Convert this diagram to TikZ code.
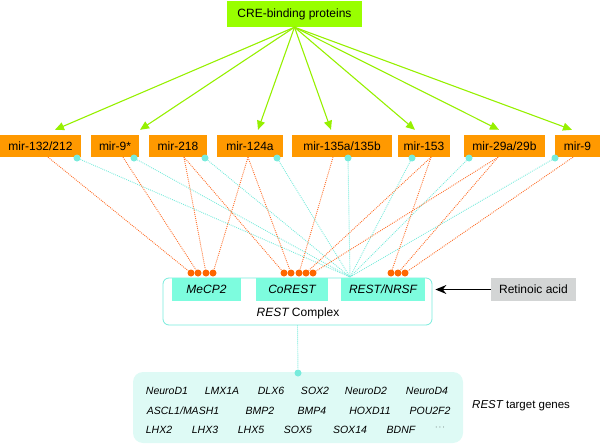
\documentclass[tikz,border=0pt]{standalone}
\usepackage{fontspec}
\setmainfont{Liberation Sans}
\usetikzlibrary{arrows.meta}
\definecolor{mylime}{RGB}{153,255,0}
\definecolor{mygreen}{RGB}{150,240,0}
\definecolor{myorange}{RGB}{255,153,0}
\definecolor{myred}{RGB}{255,102,0}
\definecolor{myline}{RGB}{255,110,40}
\definecolor{myaqua}{RGB}{125,252,222}
\definecolor{mycyan}{RGB}{120,235,220}
\definecolor{mypale}{RGB}{222,250,245}
\definecolor{mygrey}{RGB}{211,213,213}
\tikzstyle{mir}=[fill=myorange,minimum height=22pt,inner sep=0pt,font=\fontsize{12}{14}\selectfont]
\tikzstyle{part}=[fill=myaqua,minimum height=23pt,inner sep=0pt,font=\fontsize{12}{14}\selectfont\itshape]
\tikzstyle{odot}=[circle,fill=myred,minimum size=7pt,inner sep=0pt]
\tikzstyle{cdot}=[circle,fill=mycyan,minimum size=7pt,inner sep=0pt]
\tikzstyle{oline}=[myline,line width=0.9pt,dash pattern=on 0.9pt off 1.1pt]
\tikzstyle{cline}=[mycyan,line width=0.9pt,dash pattern=on 0.9pt off 1.1pt]
\tikzstyle{grarrow}=[mygreen,line width=1.1pt,-{Triangle[length=9pt,width=8pt]}]
\tikzstyle{gene}=[inner sep=0pt,font=\fontsize{10.5}{12}\selectfont\itshape]

\begin{document}
\begin{tikzpicture}[x=1pt,y=-1pt]
\useasboundingbox (0,0) rectangle (600,444);
% top
\draw (294.5,14) node [fill=mylime,minimum width=135pt,minimum height=26pt,font=\fontsize{12}{14}\selectfont] (cre) {CRE-binding proteins};
% microRNAs
\draw (40.5,146) node [mir,minimum width=81pt] (m1) {mir-132/212};
\draw (115,146) node [mir,minimum width=48pt] (m2) {mir-9*};
\draw (178,146) node [mir,minimum width=58pt] (m3) {mir-218};
\draw (250,146) node [mir,minimum width=66pt] (m4) {mir-124a};
\draw (342,146) node [mir,minimum width=100pt] (m5) {mir-135a/135b};
\draw (424,146) node [mir,minimum width=52pt] (m6) {mir-153};
\draw (504.5,146) node [mir,minimum width=81pt] (m7) {mir-29a/29b};
\draw (577.5,146) node [mir,minimum width=45pt] (m8) {mir-9};
\draw [grarrow] (cre.south) -- ([xshift=14.5pt,yshift=5pt]m1.north);
\draw [grarrow] (cre.south) -- ([xshift=25pt,yshift=5pt]m2.north);
\draw [grarrow] (cre.south) -- ([xshift=8pt,yshift=5pt]m4.north);
\draw [grarrow] (cre.south) -- ([xshift=-11pt,yshift=5pt]m5.north);
\draw [grarrow] (cre.south) -- ([xshift=-9pt,yshift=5pt]m6.north);
\draw [grarrow] (cre.south) -- ([xshift=-5.5pt,yshift=5pt]m7.north);
\draw [grarrow] (cre.south) -- ([xshift=-5.5pt,yshift=5pt]m8.north);
% REST complex
\draw (297.5,301.5) node [draw=mycyan,line width=0.8pt,rounded corners=6pt,minimum width=269pt,minimum height=47pt] (cx) {};
\draw (206.5,289.5) node [part,minimum width=69pt] (mecp) {MeCP2};
\draw (292,289.5) node [part,minimum width=72pt] (corest) {CoREST};
\draw (383,289.5) node [part,minimum width=84pt] (rest) {REST/NRSF};
\draw (298,313) node [font=\fontsize{12}{14}\selectfont] (cxlabel) {{\itshape REST} Complex};
\coordinate (hub) at (350,277);
% cyan links
\draw (77,158) node [cdot] (s1) {};
\draw (134,158) node [cdot] (s2) {};
\draw (205,158) node [cdot] (s3) {};
\draw (277,158) node [cdot] (s4) {};
\draw (348,158) node [cdot] (s5) {};
\draw (412,158) node [cdot] (s6) {};
\draw (469,158) node [cdot] (s7) {};
\draw (555,158) node [cdot] (s8) {};
\draw [cline] (s1) -- (hub);
\draw [cline] (s2) -- (hub);
\draw [cline] (s3) -- (hub);
\draw [cline] (s4) -- (hub);
\draw [cline] (s5) -- (hub);
\draw [cline] (s6) -- (hub);
\draw [cline] (s7) -- (hub);
\draw [cline] (s8) -- (hub);
% orange links
\draw (191,273) node [odot] (a1) {};
\draw (198,273) node [odot] (a2) {};
\draw (206,273) node [odot] (a3) {};
\draw (213,273) node [odot] (a4) {};
\draw (284,273) node [odot] (b1) {};
\draw (291,273) node [odot] (b2) {};
\draw (299,273) node [odot] (b3) {};
\draw (306,273) node [odot] (b4) {};
\draw (313,273) node [odot] (b5) {};
\draw (391,273) node [odot] (r1) {};
\draw (398,273) node [odot] (r2) {};
\draw (405,273) node [odot] (r3) {};
\draw [oline] ([xshift=7.5pt]m1.south) -- (a1);
\draw [oline] ([xshift=8pt]m2.south) -- (a2);
\draw [oline] ([xshift=6pt]m3.south) -- (a3);
\draw [oline] ([xshift=6pt]m3.south) -- (b1);
\draw [oline] ([xshift=-2pt]m4.south) -- (a4);
\draw [oline] ([xshift=-2pt]m4.south) -- (b2);
\draw [oline] ([xshift=-9pt]m5.south) -- (b3);
\draw [oline] ([xshift=7pt]m6.south) -- (b4);
\draw [oline] ([xshift=7pt]m6.south) -- (r1);
\draw [oline] ([xshift=-6.5pt]m7.south) -- (b5);
\draw [oline] ([xshift=-6.5pt]m7.south) -- (r2);
\draw [oline] ([xshift=-4.5pt]m8.south) -- (r3);
% retinoic acid
\draw (533.5,289.5) node [fill=mygrey,minimum width=85pt,minimum height=23pt,font=\fontsize{12}{14}\selectfont] (ra) {Retinoic acid};
\draw [line width=1.2pt,-{Stealth[length=11pt,width=9pt]},shorten >=3pt] (ra.west) -- (cx.east |- ra.west);
% target genes
\draw (298,407.5) node [fill=mypale,rounded corners=10pt,minimum width=330pt,minimum height=71pt] (genes) {};
\draw (298,373) node [cdot] (gd) {};
\draw [cline] (cx.south) -- (gd);
\draw (167,391) node [gene] (g1) {NeuroD1};
\draw (222,391) node [gene] (g2) {LMX1A};
\draw (271,391) node [gene] (g3) {DLX6};
\draw (315,391) node [gene] (g4) {SOX2};
\draw (366,391) node [gene] (g5) {NeuroD2};
\draw (427,391) node [gene] (g6) {NeuroD4};
\draw (183,411) node [gene] (g7) {ASCL1/MASH1};
\draw (260,411) node [gene] (g8) {BMP2};
\draw (312,411) node [gene] (g9) {BMP4};
\draw (370,411) node [gene] (g10) {HOXD11};
\draw (430,411) node [gene] (g11) {POU2F2};
\draw (159,430) node [gene] (g12) {LHX2};
\draw (205,430) node [gene] (g13) {LHX3};
\draw (251,430) node [gene] (g14) {LHX5};
\draw (298,430) node [gene] (g15) {SOX5};
\draw (350,430) node [gene] (g16) {SOX14};
\draw (401,430) node [gene] (g17) {BDNF};
\draw (440,428) node [inner sep=0pt,font=\fontsize{8}{8}\selectfont] (g18) {$\cdots$};
\draw (472,406) node [anchor=west,inner sep=0pt,font=\fontsize{11.5}{13}\selectfont] (tg) {{\itshape REST} target genes};
\end{tikzpicture}
\end{document}
